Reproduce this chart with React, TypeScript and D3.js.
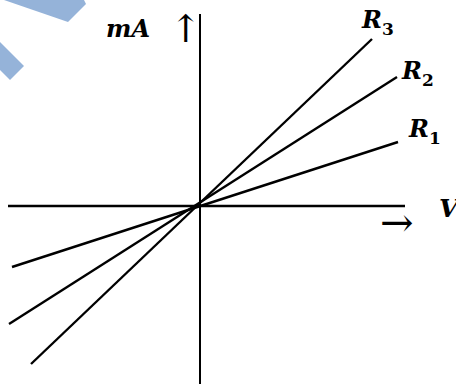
import React from "react";
import * as d3 from "d3";

// Current–voltage characteristics of three resistors (V along x, mA along y)
const seriesNames = ["R1", "R2", "R3"];
const voltages: number[][] = [
  [-0.94, 0.99],
  [-0.955, 0.985],
  [-0.845, 0.86],
];
const currents: number[][] = [
  [-0.305, 0.32],
  [-0.59, 0.645],
  [-0.79, 0.835],
];
const xAxisExtent = [-0.96, 1.025];
const yAxisExtent = [-0.89, 0.96];
const xLabel = "V";
const yLabel = "mA";

const W = 456;
const H = 386;

export default function App() {
  const x = d3.scaleLinear().domain([-1, 1]).range([0, 400]);
  const y = d3.scaleLinear().domain([-1, 1]).range([406, 6]);
  const line = d3
    .line<[number, number]>()
    .x((d) => x(d[0]))
    .y((d) => y(d[1]));

  const labelPos = [
    { dx: 11, dy: -5 },
    { dx: 5, dy: 2 },
    { dx: -10, dy: -11 },
  ];
  const serif = "'DejaVu Serif', serif";

  return (
    <svg
      width={W}
      height={H}
      style={{ position: "absolute", left: 0, top: 0, background: "#fff" }}
    >
      {/* watermark shapes */}
      <polygon points="4,0 84,0 86,4 68,22" fill="#95b3d9" />
      <polygon points="0,42 24,66 10,80 0,70" fill="#95b3d9" />

      {/* axes */}
      <line
        x1={x(xAxisExtent[0])}
        x2={x(xAxisExtent[1])}
        y1={y(0)}
        y2={y(0)}
        stroke="#000"
        strokeWidth={2.4}
      />
      <line
        x1={x(0)}
        x2={x(0)}
        y1={y(yAxisExtent[1])}
        y2={y(yAxisExtent[0])}
        stroke="#000"
        strokeWidth={2}
      />

      {/* characteristic lines */}
      {seriesNames.map((name, i) => {
        const pts = voltages[i].map(
          (v, j) => [v, currents[i][j]] as [number, number]
        );
        const end = pts[pts.length - 1];
        const lp = labelPos[i];
        const lx = x(end[0]) + lp.dx;
        const ly = y(end[1]) + lp.dy;
        return (
          <g key={name}>
            <path d={line(pts) || ""} fill="none" stroke="#000" strokeWidth={2.4} />
            <text
              x={lx}
              y={ly}
              fontFamily={serif}
              fontStyle="italic"
              fontWeight="bold"
              fontSize={24}
              fill="#000"
            >
              {name[0]}
              <tspan fontSize={17} dy={7} fontStyle="normal">
                {name.slice(1)}
              </tspan>
            </text>
          </g>
        );
      })}

      {/* axis labels */}
      <text
        x={106}
        y={37}
        fontFamily={serif}
        fontStyle="italic"
        fontWeight="bold"
        fontSize={24}
        fill="#000"
      >
        {yLabel}
      </text>
      <text x={170} y={42} fontFamily={serif} fontSize={38} fill="#000">
        ↑
      </text>
      <text
        x={439}
        y={217}
        fontFamily={serif}
        fontStyle="italic"
        fontWeight="bold"
        fontSize={25}
        fill="#000"
      >
        {xLabel}
      </text>
      <text x={380} y={236} fontFamily={serif} fontSize={40} fill="#000">
        →
      </text>
    </svg>
  );
}
